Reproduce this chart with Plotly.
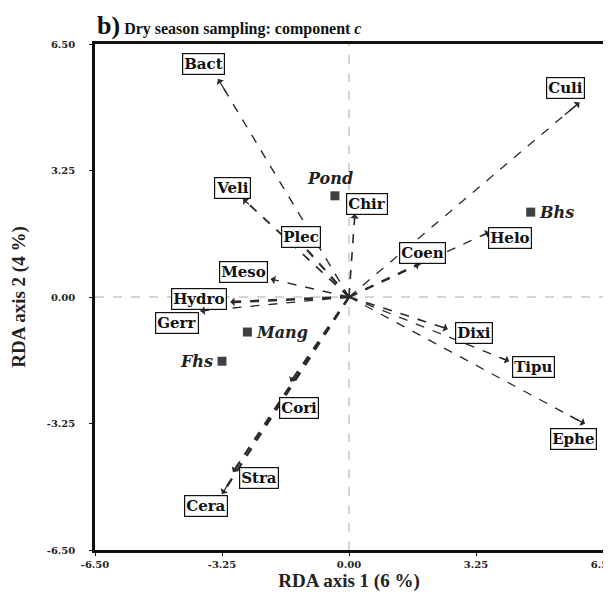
import plotly.graph_objects as go

# Species arrows (tip coordinates)
species = ["Bact", "Culi", "Veli", "Plec", "Chir", "Coen", "Helo", "Meso", "Hydro",
           "Gerr", "Dixi", "Tipu", "Ephe", "Cori", "Stra", "Cera"]
tip_x = [-3.35, 5.90, -2.71, -1.48, 0.15, 1.80, 3.60, -2.00, -3.04,
         -3.80, 2.53, 4.10, 6.04, -1.50, -2.97, -3.25]
tip_y = [5.60, 5.00, 2.52, 1.67, 2.13, 0.85, 1.67, 0.46, -0.13,
         -0.36, -0.82, -1.65, -3.26, -2.18, -4.50, -5.06]
label_x = [-3.73, 5.55, -2.99, -1.23, 0.46, 1.89, 4.12, -2.69, -3.84,
           -4.40, 3.20, 4.71, 5.75, -1.28, -2.30, -3.66]
label_y = [5.99, 5.37, 2.80, 1.54, 2.39, 1.13, 1.52, 0.64, -0.05,
           -0.67, -0.93, -1.80, -3.65, -2.85, -4.65, -5.37]
line_w = [1.4, 1.3, 1.8, 2.2, 1.6, 2.4, 1.3, 1.4, 2.6,
          1.3, 1.6, 1.3, 1.3, 1.8, 2.2, 2.4]

# Sample sites
sites = ["Pond", "Bhs", "Mang", "Fhs"]
site_x = [-0.36, 4.65, -2.60, -3.25]
site_y = [2.60, 2.18, -0.90, -1.65]

ticks = [-6.5, -3.25, 0.0, 3.25, 6.5]
tick_text = ["-6.50", "-3.25", "0.00", "3.25", "6.50"]

FONT = "Liberation Serif"
FONT2 = "DejaVu Serif"
fig = go.Figure()

for s, tx, ty, w in zip(species, tip_x, tip_y, line_w):
    fig.add_trace(go.Scatter(x=[0, tx], y=[0, ty], mode="lines",
                             line=dict(color="#2a2a2a", width=w, dash="dash"),
                             hoverinfo="skip", showlegend=False))

fig.add_trace(go.Scatter(x=site_x, y=site_y, mode="markers",
                         marker=dict(symbol="square", size=9, color="#404040"),
                         showlegend=False, hoverinfo="skip"))

annotations = []
for s, tx, ty, lx, ly in zip(species, tip_x, tip_y, label_x, label_y):
    annotations.append(dict(x=tx, y=ty, ax=tx * 0.93, ay=ty * 0.93,
                            xref="x", yref="y", axref="x", ayref="y",
                            text="", showarrow=True, arrowhead=1, arrowsize=1.1,
                            arrowwidth=1.3, arrowcolor="#2a2a2a"))
    annotations.append(dict(x=lx, y=ly, xref="x", yref="y", text="<b>%s</b>" % s,
                            showarrow=False, font=dict(family=FONT2, size=15, color="#111"),
                            bordercolor="#111", borderwidth=1.2, borderpad=1, bgcolor="white"))

site_label_pos = {"Pond": (-0.49, 3.05, "center"), "Bhs": (4.82, 2.18, "left"),
                  "Mang": (-2.43, -0.90, "left"), "Fhs": (-3.42, -1.65, "right")}
for s in sites:
    lx, ly, anc = site_label_pos[s]
    annotations.append(dict(x=lx, y=ly, xref="x", yref="y", text="<b><i>%s</i></b>" % s,
                            showarrow=False, xanchor=anc,
                            font=dict(family=FONT2, size=16, color="#222")))

annotations.append(dict(x=0.0, y=1.036, xref="paper", yref="paper", xanchor="left",
                        yanchor="middle", showarrow=False,
                        text="<b><span style='font-size:26px'>b)</span> Dry season sampling: component <i>c</i></b>",
                        font=dict(family=FONT, size=16, color="#111")))

shapes = [
    dict(type="line", x0=0, x1=0, y0=-6.5, y1=6.5, xref="x", yref="y",
         line=dict(color="#aaaaaa", width=1, dash="dash"), layer="below"),
    dict(type="line", x0=-6.5, x1=6.5, y0=0, y1=0, xref="x", yref="y",
         line=dict(color="#aaaaaa", width=1, dash="dash"), layer="below"),
]

axis_common = dict(range=[-6.5, 6.5], tickvals=ticks,
                   ticktext=["<b>%s</b>" % t for t in tick_text],
                   showgrid=False, zeroline=False, showline=True, mirror=True,
                   linecolor="#111", linewidth=2.5, ticks="outside", ticklen=3,
                   automargin=False,
                   tickcolor="#111", tickfont=dict(family=FONT2, size=10, color="#222"))

# page body has an 8px default margin, so the plot area is offset to match
fig.update_layout(
    width=611, height=586,
    margin=dict(l=87, r=16, t=36, b=44),
    paper_bgcolor="white", plot_bgcolor="white",
    xaxis=dict(**axis_common, title=dict(text="<b>RDA axis 1 (6 %)</b>", standoff=2,
                                          font=dict(family=FONT, size=19, color="#222"))),
    yaxis=dict(**axis_common, ticklabelstandoff=12,
               title=dict(text="<b>RDA axis 2 (4 %)</b>", standoff=22,
                          font=dict(family=FONT, size=19, color="#222"))),
    annotations=annotations, shapes=shapes, showlegend=False,
)

fig.write_html("out.html")
